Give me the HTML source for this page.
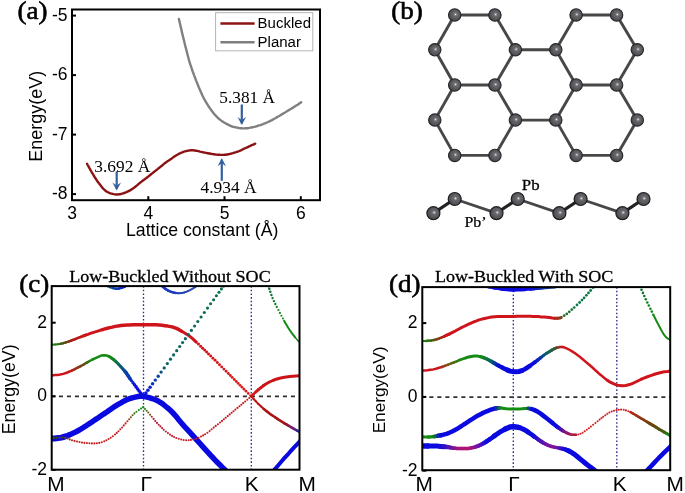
<!DOCTYPE html>
<html><head><meta charset="utf-8"><title>Figure</title>
<style>html,body{margin:0;padding:0;background:#fff;width:685px;height:493px;overflow:hidden}svg{display:block;will-change:transform}</style>
</head><body><svg width="685" height="493" viewBox="0 0 685 493"><rect x="72" y="9.5" width="248" height="190.7" fill="none" stroke="#000" stroke-width="2"/><line x1="72" y1="15.6" x2="76" y2="15.6" stroke="#000" stroke-width="2"/><text x="67.6" y="20.6" font-size="17.5" font-family="Liberation Sans, sans-serif" font-weight="normal" text-anchor="end" >-5</text><line x1="72" y1="75.1" x2="76" y2="75.1" stroke="#000" stroke-width="2"/><text x="67.6" y="80.1" font-size="17.5" font-family="Liberation Sans, sans-serif" font-weight="normal" text-anchor="end" >-6</text><line x1="72" y1="134.6" x2="76" y2="134.6" stroke="#000" stroke-width="2"/><text x="67.6" y="139.6" font-size="17.5" font-family="Liberation Sans, sans-serif" font-weight="normal" text-anchor="end" >-7</text><line x1="72" y1="194.1" x2="76" y2="194.1" stroke="#000" stroke-width="2"/><text x="67.6" y="199.1" font-size="17.5" font-family="Liberation Sans, sans-serif" font-weight="normal" text-anchor="end" >-8</text><line x1="72.0" y1="200.2" x2="72.0" y2="196.2" stroke="#000" stroke-width="2"/><text x="72.0" y="218.5" font-size="17.5" font-family="Liberation Sans, sans-serif" font-weight="normal" text-anchor="middle" >3</text><line x1="148.3" y1="200.2" x2="148.3" y2="196.2" stroke="#000" stroke-width="2"/><text x="148.3" y="218.5" font-size="17.5" font-family="Liberation Sans, sans-serif" font-weight="normal" text-anchor="middle" >4</text><line x1="224.5" y1="200.2" x2="224.5" y2="196.2" stroke="#000" stroke-width="2"/><text x="224.5" y="218.5" font-size="17.5" font-family="Liberation Sans, sans-serif" font-weight="normal" text-anchor="middle" >5</text><line x1="300.8" y1="200.2" x2="300.8" y2="196.2" stroke="#000" stroke-width="2"/><text x="300.8" y="218.5" font-size="17.5" font-family="Liberation Sans, sans-serif" font-weight="normal" text-anchor="middle" >6</text><text x="0.0" y="0.0" font-size="18.0" font-family="Liberation Sans, sans-serif" font-weight="normal" text-anchor="middle" transform="translate(42.4,116.3) rotate(-90)">Energy(eV)</text><text x="202.2" y="235.8" font-size="17.7" font-family="Liberation Sans, sans-serif" font-weight="normal" text-anchor="middle" >Lattice constant (&#197;)</text><text transform="translate(17.40 18.60) scale(1.060 1)" font-size="25.5" font-family="Liberation Serif, serif" font-weight="normal" text-anchor="start" stroke="#000" stroke-width="0.6">(a)</text><path d="M87.0 163.7 L87.4 164.5 L88.0 165.6 L88.8 166.9 L89.5 168.3 L90.3 169.7 L91.1 171.0 L91.8 172.3 L92.6 173.6 L93.4 174.9 L94.1 176.2 L94.9 177.5 L95.7 178.7 L96.5 179.9 L97.2 181.0 L98.0 182.1 L98.8 183.1 L99.5 184.1 L100.3 185.1 L101.1 186.1 L101.8 187.0 L102.5 187.9 L103.3 188.7 L104.0 189.5 L104.8 190.2 L105.5 190.8 L106.2 191.3 L107.0 191.8 L107.7 192.2 L108.5 192.5 L109.4 192.9 L110.4 193.3 L111.5 193.6 L112.7 193.9 L113.8 194.2 L115.0 194.4 L116.2 194.5 L117.4 194.5 L118.5 194.4 L119.7 194.2 L120.8 194.0 L122.0 193.7 L123.1 193.4 L124.2 193.0 L125.3 192.6 L126.4 192.2 L127.5 191.7 L128.5 191.1 L129.5 190.6 L130.5 190.1 L131.4 189.5 L132.3 188.9 L133.2 188.3 L134.1 187.6 L135.0 187.0 L135.9 186.3 L136.7 185.6 L137.6 184.9 L138.4 184.1 L139.3 183.4 L140.1 182.7 L140.9 182.1 L141.8 181.4 L142.6 180.8 L143.4 180.2 L144.3 179.6 L145.1 179.0 L145.9 178.4 L146.8 177.7 L147.6 177.0 L148.5 176.4 L149.3 175.7 L150.2 175.0 L151.0 174.3 L151.9 173.6 L152.8 172.9 L153.6 172.3 L154.4 171.6 L155.3 170.9 L156.2 170.2 L157.0 169.6 L157.9 168.9 L158.7 168.2 L159.6 167.6 L160.4 166.9 L161.2 166.2 L162.1 165.5 L162.9 164.8 L163.7 164.1 L164.6 163.4 L165.4 162.8 L166.2 162.2 L167.1 161.6 L167.9 161.0 L168.8 160.5 L169.6 159.9 L170.5 159.3 L171.4 158.7 L172.2 158.1 L173.1 157.4 L173.9 156.8 L174.8 156.2 L175.6 155.7 L176.4 155.2 L177.3 154.7 L178.1 154.2 L178.9 153.8 L179.8 153.4 L180.6 153.0 L181.4 152.6 L182.3 152.3 L183.1 152.0 L184.0 151.7 L184.8 151.4 L185.7 151.2 L186.5 151.0 L187.4 150.8 L188.2 150.6 L189.1 150.5 L189.9 150.4 L190.8 150.3 L191.6 150.3 L192.4 150.3 L193.1 150.3 L193.9 150.4 L194.8 150.5 L195.9 150.7 L197.1 150.9 L198.5 151.2 L199.9 151.6 L201.4 151.9 L203.0 152.3 L204.5 152.6 L206.1 152.9 L207.7 153.2 L209.3 153.5 L210.9 153.8 L212.5 154.1 L214.0 154.3 L215.4 154.5 L216.7 154.6 L218.0 154.7 L219.2 154.8 L220.4 154.9 L221.6 154.9 L222.7 154.9 L223.8 154.9 L224.8 154.8 L225.8 154.7 L226.9 154.5 L228.2 154.3 L229.6 154.0 L231.2 153.6 L232.8 153.2 L234.4 152.7 L236.1 152.2 L237.7 151.6 L239.3 151.0 L240.9 150.3 L242.5 149.5 L244.1 148.7 L245.7 148.0 L247.2 147.3 L248.7 146.6 L250.3 145.9 L251.8 145.2 L253.2 144.6 L254.3 144.1 L255.2 143.7" fill="none" stroke="#8a1212" stroke-width="2.4" stroke-linecap="round"/><path d="M178.9 18.9 L179.3 20.7 L179.9 23.2 L180.6 26.1 L181.3 29.3 L182.0 32.4 L182.7 35.3 L183.3 37.9 L184.0 40.5 L184.6 43.1 L185.2 45.6 L185.9 48.1 L186.5 50.5 L187.1 52.9 L187.7 55.2 L188.3 57.5 L188.9 59.8 L189.6 62.1 L190.3 64.4 L191.1 66.7 L191.9 69.1 L192.7 71.5 L193.6 73.8 L194.4 76.1 L195.3 78.4 L196.1 80.6 L197.0 82.8 L197.9 84.9 L198.7 87.0 L199.6 89.1 L200.4 91.0 L201.2 92.8 L202.0 94.5 L202.7 96.1 L203.5 97.7 L204.4 99.4 L205.4 101.1 L206.5 103.0 L207.7 104.9 L209.0 107.0 L210.4 108.9 L211.7 110.8 L213.0 112.5 L214.2 114.0 L215.5 115.4 L216.7 116.7 L217.9 117.9 L219.2 119.0 L220.6 120.1 L222.1 121.2 L223.7 122.2 L225.4 123.2 L227.1 124.1 L228.6 124.9 L230.0 125.6 L231.2 126.1 L232.2 126.5 L233.1 126.8 L234.0 127.0 L234.9 127.2 L235.8 127.4 L236.8 127.6 L237.8 127.8 L238.8 128.0 L239.7 128.1 L240.7 128.2 L241.7 128.3 L242.7 128.4 L243.6 128.4 L244.6 128.4 L245.6 128.3 L246.5 128.3 L247.5 128.2 L248.5 128.1 L249.5 127.9 L250.4 127.7 L251.4 127.5 L252.4 127.3 L253.4 127.1 L254.4 126.9 L255.3 126.6 L256.3 126.3 L257.3 126.0 L258.2 125.7 L259.2 125.4 L260.2 125.1 L261.1 124.8 L262.1 124.4 L263.1 124.1 L264.0 123.7 L265.0 123.3 L266.0 122.9 L267.0 122.5 L267.9 122.0 L268.9 121.6 L269.9 121.1 L270.9 120.6 L271.9 120.1 L272.8 119.6 L273.8 119.0 L274.8 118.5 L275.7 118.0 L276.7 117.4 L277.7 116.8 L278.7 116.3 L279.7 115.7 L280.6 115.1 L281.6 114.5 L282.6 113.9 L283.6 113.3 L284.5 112.7 L285.5 112.2 L286.5 111.6 L287.4 111.0 L288.4 110.4 L289.4 109.8 L290.3 109.3 L291.2 108.7 L292.2 108.1 L293.2 107.5 L294.2 106.9 L295.4 106.1 L296.7 105.3 L298.1 104.4 L299.3 103.5 L300.4 102.8 L301.2 102.3" fill="none" stroke="#808080" stroke-width="2.4" stroke-linecap="round"/><rect x="215.6" y="12.7" width="97.2" height="38.1" fill="#fff" stroke="#b4b4b4" stroke-width="1"/><line x1="220.4" y1="23.5" x2="254.6" y2="23.5" stroke="#8c1414" stroke-width="2.6"/><line x1="220.4" y1="42.3" x2="254.6" y2="42.3" stroke="#7f7f7f" stroke-width="2.6"/><text transform="translate(257.60 28.20) scale(1.035 1)" font-size="14.5" font-family="Liberation Sans, sans-serif" font-weight="normal" text-anchor="start" >Buckled</text><text transform="translate(257.60 46.60) scale(1.035 1)" font-size="14.5" font-family="Liberation Sans, sans-serif" font-weight="normal" text-anchor="start" >Planar</text><line x1="241.8" y1="104.5" x2="241.8" y2="123.5" stroke="#34609c" stroke-width="2.2"/><path d="M237.5 117.0 L241.8 125.0 L246.1 117.0 L241.8 120.0 Z" fill="#34609c"/><line x1="116.7" y1="171.4" x2="116.7" y2="188.9" stroke="#34609c" stroke-width="2.2"/><path d="M112.4 182.4 L116.7 190.4 L121.0 182.4 L116.7 185.4 Z" fill="#34609c"/><line x1="221.8" y1="180.8" x2="221.8" y2="159.7" stroke="#34609c" stroke-width="2.2"/><path d="M217.5 166.2 L221.8 158.2 L226.1 166.2 L221.8 163.2 Z" fill="#34609c"/><text transform="translate(219.30 103.00) scale(1.035 1)" font-size="16.7" font-family="Liberation Serif, serif" font-weight="normal" text-anchor="start" >5.381 &#197;</text><text transform="translate(94.30 172.30) scale(1.040 1)" font-size="16.7" font-family="Liberation Serif, serif" font-weight="normal" text-anchor="start" >3.692 &#197;</text><text transform="translate(200.50 193.00) scale(1.045 1)" font-size="16.7" font-family="Liberation Serif, serif" font-weight="normal" text-anchor="start" >4.934 &#197;</text><text transform="translate(391.20 18.60) scale(1.060 1)" font-size="25.5" font-family="Liberation Serif, serif" font-weight="normal" text-anchor="start" stroke="#000" stroke-width="0.6">(b)</text><defs><radialGradient id="ag" cx="0.56" cy="0.45" r="0.55" fx="0.56" fy="0.45"><stop offset="0" stop-color="#f4f4f4"/><stop offset="0.13" stop-color="#9a9a9e"/><stop offset="0.3" stop-color="#68686c"/><stop offset="0.85" stop-color="#505054"/><stop offset="1" stop-color="#3c3c40"/></radialGradient></defs><line x1="494.9" y1="15.0" x2="515.4" y2="49.8" stroke="#474747" stroke-width="2.9"/><line x1="494.9" y1="155.4" x2="515.4" y2="120.1" stroke="#474747" stroke-width="2.9"/><line x1="555.8" y1="49.8" x2="576.1" y2="85.0" stroke="#474747" stroke-width="2.9"/><line x1="454.7" y1="155.4" x2="494.9" y2="155.4" stroke="#474747" stroke-width="2.9"/><line x1="616.6" y1="85.0" x2="637.3" y2="120.1" stroke="#474747" stroke-width="2.9"/><line x1="576.1" y1="85.0" x2="616.6" y2="85.0" stroke="#474747" stroke-width="2.9"/><line x1="555.8" y1="49.8" x2="576.1" y2="15.0" stroke="#474747" stroke-width="2.9"/><line x1="515.4" y1="120.1" x2="555.8" y2="120.1" stroke="#474747" stroke-width="2.9"/><line x1="494.9" y1="85.0" x2="515.4" y2="120.1" stroke="#474747" stroke-width="2.9"/><line x1="576.1" y1="155.4" x2="616.6" y2="155.4" stroke="#474747" stroke-width="2.9"/><line x1="555.8" y1="120.1" x2="576.1" y2="155.4" stroke="#474747" stroke-width="2.9"/><line x1="576.1" y1="15.0" x2="616.6" y2="15.0" stroke="#474747" stroke-width="2.9"/><line x1="434.8" y1="120.1" x2="454.7" y2="155.4" stroke="#474747" stroke-width="2.9"/><line x1="616.6" y1="85.0" x2="637.3" y2="49.8" stroke="#474747" stroke-width="2.9"/><line x1="494.9" y1="85.0" x2="515.4" y2="49.8" stroke="#474747" stroke-width="2.9"/><line x1="616.6" y1="155.4" x2="637.3" y2="120.1" stroke="#474747" stroke-width="2.9"/><line x1="555.8" y1="120.1" x2="576.1" y2="85.0" stroke="#474747" stroke-width="2.9"/><line x1="454.7" y1="15.0" x2="494.9" y2="15.0" stroke="#474747" stroke-width="2.9"/><line x1="515.4" y1="49.8" x2="555.8" y2="49.8" stroke="#474747" stroke-width="2.9"/><line x1="616.6" y1="15.0" x2="637.3" y2="49.8" stroke="#474747" stroke-width="2.9"/><line x1="454.7" y1="85.0" x2="494.9" y2="85.0" stroke="#474747" stroke-width="2.9"/><line x1="434.8" y1="49.8" x2="454.7" y2="85.0" stroke="#474747" stroke-width="2.9"/><line x1="434.8" y1="120.1" x2="454.7" y2="85.0" stroke="#474747" stroke-width="2.9"/><line x1="434.8" y1="49.8" x2="454.7" y2="15.0" stroke="#474747" stroke-width="2.9"/><circle cx="454.7" cy="155.4" r="6.2" fill="url(#ag)" stroke="#262628" stroke-width="1.1"/><circle cx="434.8" cy="120.1" r="6.2" fill="url(#ag)" stroke="#262628" stroke-width="1.1"/><circle cx="555.8" cy="120.1" r="6.2" fill="url(#ag)" stroke="#262628" stroke-width="1.1"/><circle cx="637.3" cy="120.1" r="6.2" fill="url(#ag)" stroke="#262628" stroke-width="1.1"/><circle cx="454.7" cy="15.0" r="6.2" fill="url(#ag)" stroke="#262628" stroke-width="1.1"/><circle cx="434.8" cy="49.8" r="6.2" fill="url(#ag)" stroke="#262628" stroke-width="1.1"/><circle cx="454.7" cy="85.0" r="6.2" fill="url(#ag)" stroke="#262628" stroke-width="1.1"/><circle cx="555.8" cy="49.8" r="6.2" fill="url(#ag)" stroke="#262628" stroke-width="1.1"/><circle cx="637.3" cy="49.8" r="6.2" fill="url(#ag)" stroke="#262628" stroke-width="1.1"/><circle cx="616.6" cy="155.4" r="6.2" fill="url(#ag)" stroke="#262628" stroke-width="1.1"/><circle cx="616.6" cy="15.0" r="6.2" fill="url(#ag)" stroke="#262628" stroke-width="1.1"/><circle cx="515.4" cy="120.1" r="6.2" fill="url(#ag)" stroke="#262628" stroke-width="1.1"/><circle cx="616.6" cy="85.0" r="6.2" fill="url(#ag)" stroke="#262628" stroke-width="1.1"/><circle cx="515.4" cy="49.8" r="6.2" fill="url(#ag)" stroke="#262628" stroke-width="1.1"/><circle cx="576.1" cy="155.4" r="6.2" fill="url(#ag)" stroke="#262628" stroke-width="1.1"/><circle cx="494.9" cy="155.4" r="6.2" fill="url(#ag)" stroke="#262628" stroke-width="1.1"/><circle cx="576.1" cy="15.0" r="6.2" fill="url(#ag)" stroke="#262628" stroke-width="1.1"/><circle cx="494.9" cy="15.0" r="6.2" fill="url(#ag)" stroke="#262628" stroke-width="1.1"/><circle cx="576.1" cy="85.0" r="6.2" fill="url(#ag)" stroke="#262628" stroke-width="1.1"/><circle cx="494.9" cy="85.0" r="6.2" fill="url(#ag)" stroke="#262628" stroke-width="1.1"/><line x1="433.4" y1="213.2" x2="454.7" y2="199.0" stroke="#222" stroke-width="3.2"/><line x1="454.7" y1="199.0" x2="496.5" y2="213.2" stroke="#474747" stroke-width="2.9"/><line x1="496.5" y1="213.2" x2="517.7" y2="199.0" stroke="#222" stroke-width="3.2"/><line x1="517.7" y1="199.0" x2="559.4" y2="213.2" stroke="#474747" stroke-width="2.9"/><line x1="559.4" y1="213.2" x2="580.6" y2="199.0" stroke="#222" stroke-width="3.2"/><line x1="580.6" y1="199.0" x2="622.4" y2="213.2" stroke="#474747" stroke-width="2.9"/><line x1="622.4" y1="213.2" x2="643.5" y2="199.0" stroke="#222" stroke-width="3.2"/><circle cx="433.4" cy="213.2" r="6.5" fill="url(#ag)" stroke="#1e1e20" stroke-width="1.2"/><circle cx="454.7" cy="199.0" r="6.5" fill="url(#ag)" stroke="#1e1e20" stroke-width="1.2"/><circle cx="496.5" cy="213.2" r="6.5" fill="url(#ag)" stroke="#1e1e20" stroke-width="1.2"/><circle cx="517.7" cy="199.0" r="6.5" fill="url(#ag)" stroke="#1e1e20" stroke-width="1.2"/><circle cx="559.4" cy="213.2" r="6.5" fill="url(#ag)" stroke="#1e1e20" stroke-width="1.2"/><circle cx="580.6" cy="199.0" r="6.5" fill="url(#ag)" stroke="#1e1e20" stroke-width="1.2"/><circle cx="622.4" cy="213.2" r="6.5" fill="url(#ag)" stroke="#1e1e20" stroke-width="1.2"/><circle cx="643.5" cy="199.0" r="6.5" fill="url(#ag)" stroke="#1e1e20" stroke-width="1.2"/><text transform="translate(521.80 189.80) scale(1.160 1)" font-size="14.5" font-family="Liberation Serif, serif" font-weight="normal" text-anchor="start" stroke="#000" stroke-width="0.25">Pb</text><text transform="translate(464.40 227.20) scale(1.100 1)" font-size="14.5" font-family="Liberation Serif, serif" font-weight="normal" text-anchor="start" stroke="#000" stroke-width="0.25">Pb&#8217;</text><line x1="143.5" y1="286.1" x2="143.5" y2="469.7" stroke="#2e2e8c" stroke-width="1.35" stroke-dasharray="1.6 2.05"/><line x1="251.3" y1="286.1" x2="251.3" y2="469.7" stroke="#2e2e8c" stroke-width="1.35" stroke-dasharray="1.6 2.05"/><line x1="51.7" y1="396.40" x2="299.5" y2="396.40" stroke="#333" stroke-width="1.6" stroke-dasharray="4.1 3.9" stroke-dashoffset="0.80"/><defs><clipPath id="cc"><rect x="51.7" y="286.1" width="247.8" height="183.6"/></clipPath><clipPath id="cd"><rect x="422.3" y="287.1" width="247.9" height="183.1"/></clipPath></defs><g clip-path="url(#cc)" fill="none" stroke-linecap="round" stroke-linejoin="round"><path d="M52.0 344.8 L55.3 344.5" stroke="rgb(27,133,20)" stroke-width="2.0"/><path d="M55.3 344.5 L58.0 344.2" stroke="rgb(38,122,20)" stroke-width="2.0"/><path d="M58.0 344.2 L60.8 343.8" stroke="rgb(50,110,20)" stroke-width="2.0"/><path d="M60.8 343.8 L63.5 343.1" stroke="rgb(62,99,20)" stroke-width="2.5"/><path d="M63.5 343.1 L65.9 342.4" stroke="rgb(85,83,20)" stroke-width="2.5"/><path d="M65.9 342.4 L68.4 341.6" stroke="rgb(108,68,20)" stroke-width="2.5"/><path d="M68.4 341.6 L70.9 340.7" stroke="rgb(131,53,20)" stroke-width="2.5"/><path d="M70.9 340.7 L73.4 339.8" stroke="rgb(154,37,20)" stroke-width="2.5"/><path d="M73.4 339.8 L75.8 338.9" stroke="rgb(176,22,20)" stroke-width="2.5"/><path d="M75.8 338.9 L78.2 337.9" stroke="rgb(186,20,22)" stroke-width="2.5"/><path d="M78.2 337.9 L80.6 337.0" stroke="rgb(192,20,24)" stroke-width="2.5"/><path d="M80.6 337.0 L83.1 336.0" stroke="rgb(199,20,25)" stroke-width="2.5"/><path d="M83.1 336.0 L85.5 335.1" stroke="rgb(206,20,27)" stroke-width="3.0"/><path d="M85.5 335.1 L87.9 334.3 L90.4 333.4 L92.8 332.6 L95.2 331.9 L97.7 331.1 L100.1 330.3 L102.6 329.6" stroke="rgb(208,20,28)" stroke-width="3.0"/><path d="M102.6 329.6 L105.0 328.9 L107.4 328.2 L109.9 327.6 L112.3 327.1 L115.3 326.4 L118.2 325.9 L120.9 325.5 L124.1 325.2 L127.3 325.0 L130.0 324.9 L132.6 324.8 L135.4 324.8 L138.2 324.8 L141.2 324.8 L144.1 324.8 L147.1 324.8 L150.2 324.8 L153.2 324.8 L156.0 324.8 L159.3 325.0 L162.2 325.3 L164.9 325.7 L167.8 326.1 L170.7 326.6 L173.5 327.3 L176.5 328.4 L179.4 329.9 L181.6 331.2" stroke="rgb(208,20,28)" stroke-width="3.5"/><path d="M181.6 331.2 L183.8 332.5 L186.4 334.1 L189.0 335.8 L191.1 337.4 L193.4 339.4 L195.4 341.3 L195.9 341.7" stroke="rgb(208,20,28)" stroke-width="3.0"/><circle cx="196.3" cy="342.1" r="1.53" fill="rgb(208,20,28)"/><circle cx="198.5" cy="344.1" r="1.52" fill="rgb(208,20,28)"/><circle cx="200.7" cy="346.3" r="1.51" fill="rgb(208,20,28)"/><circle cx="202.7" cy="348.2" r="1.51" fill="rgb(209,21,28)"/><circle cx="204.7" cy="350.1" r="1.50" fill="rgb(209,21,28)"/><circle cx="206.6" cy="352.0" r="1.49" fill="rgb(210,21,28)"/><circle cx="208.5" cy="353.9" r="1.49" fill="rgb(210,22,28)"/><circle cx="210.7" cy="356.0" r="1.48" fill="rgb(211,22,28)"/><circle cx="212.9" cy="358.2" r="1.47" fill="rgb(211,23,29)"/><circle cx="215.1" cy="360.3" r="1.47" fill="rgb(212,23,29)"/><circle cx="217.3" cy="362.5" r="1.46" fill="rgb(212,23,29)"/><circle cx="219.5" cy="364.7" r="1.45" fill="rgb(213,24,29)"/><circle cx="221.7" cy="366.9" r="1.44" fill="rgb(213,24,29)"/><circle cx="223.9" cy="369.1" r="1.44" fill="rgb(214,25,29)"/><circle cx="226.1" cy="371.3" r="1.43" fill="rgb(214,25,29)"/><circle cx="228.3" cy="373.5" r="1.42" fill="rgb(215,26,29)"/><circle cx="230.3" cy="375.5" r="1.42" fill="rgb(215,26,29)"/><circle cx="232.2" cy="377.4" r="1.41" fill="rgb(216,26,29)"/><circle cx="234.3" cy="379.5" r="1.40" fill="rgb(216,27,29)"/><circle cx="236.3" cy="381.5" r="1.40" fill="rgb(217,27,29)"/><circle cx="238.2" cy="383.4" r="1.39" fill="rgb(217,28,30)"/><circle cx="240.1" cy="385.3" r="1.38" fill="rgb(218,28,30)"/><circle cx="242.0" cy="387.2" r="1.38" fill="rgb(218,28,30)"/><circle cx="244.0" cy="389.2" r="1.37" fill="rgb(219,29,30)"/><circle cx="246.0" cy="391.2" r="1.36" fill="rgb(219,29,30)"/><circle cx="248.2" cy="393.4" r="1.36" fill="rgb(220,30,30)"/><circle cx="250.5" cy="395.5" r="1.35" fill="rgb(220,30,30)"/><path d="M251.3 396.3 L253.5 394.1" stroke="rgb(209,28,29)" stroke-width="2.5"/><path d="M253.5 394.1 L255.9 391.8" stroke="rgb(208,27,28)" stroke-width="2.5"/><path d="M255.9 391.8 L258.4 389.6" stroke="rgb(207,25,27)" stroke-width="3.0"/><path d="M258.4 389.6 L260.9 387.6" stroke="rgb(206,24,26)" stroke-width="3.0"/><path d="M260.9 387.6 L263.5 385.6" stroke="rgb(205,22,25)" stroke-width="3.0"/><path d="M263.5 385.6 L266.3 383.7 L269.4 382.0 L272.8 380.5 L276.2 379.2 L279.6 378.2 L283.0 377.5 L286.4 376.9 L289.6 376.5 L292.9 376.2 L296.1 376.0 L298.8 375.8 L301.4 375.7 L302.0 375.7" stroke="rgb(204,20,24)" stroke-width="3.0"/><path d="M52.0 375.4 L54.8 375.1 L57.4 374.9 L60.3 374.5 L63.2 373.9 L66.0 373.0 L68.8 371.9" stroke="rgb(208,20,28)" stroke-width="2.5"/><path d="M68.8 371.9 L71.8 370.6" stroke="rgb(206,21,28)" stroke-width="2.5"/><path d="M71.8 370.6 L74.8 369.1" stroke="rgb(182,33,26)" stroke-width="2.5"/><path d="M74.8 369.1 L77.7 367.6" stroke="rgb(159,45,25)" stroke-width="2.5"/><path d="M77.7 367.6 L80.7 366.1" stroke="rgb(136,57,23)" stroke-width="2.5"/><path d="M80.7 366.1 L83.7 364.5" stroke="rgb(112,69,21)" stroke-width="2.5"/><path d="M83.7 364.5 L86.8 362.7" stroke="rgb(88,82,20)" stroke-width="2.5"/><path d="M86.8 362.7 L89.7 361.0" stroke="rgb(57,108,20)" stroke-width="2.5"/><path d="M89.7 361.0 L92.5 359.5" stroke="rgb(29,133,20)" stroke-width="2.5"/><path d="M92.5 359.5 L95.0 358.3 L98.3 356.8 L101.2 355.6 L104.0 355.2 L106.7 355.5 L109.2 356.5" stroke="rgb(20,140,20)" stroke-width="2.5"/><path d="M109.2 356.5 L111.8 358.2" stroke="rgb(20,140,20)" stroke-width="3.0"/><path d="M111.8 358.2 L113.8 359.7" stroke="rgb(19,136,28)" stroke-width="3.0"/><path d="M113.8 359.7 L116.1 361.8" stroke="rgb(16,125,50)" stroke-width="3.0"/><path d="M116.1 361.8 L118.6 364.3" stroke="rgb(13,113,74)" stroke-width="3.0"/><path d="M118.6 364.3 L120.9 366.8" stroke="rgb(10,101,98)" stroke-width="3.0"/><path d="M120.9 366.8 L123.1 369.2" stroke="rgb(10,90,120)" stroke-width="3.0"/><path d="M123.1 369.2 L124.8 371.2" stroke="rgb(10,80,140)" stroke-width="3.0"/><path d="M124.8 371.2 L126.4 373.2" stroke="rgb(10,72,156)" stroke-width="3.5"/><path d="M126.4 373.2 L128.3 376.0" stroke="rgb(10,63,173)" stroke-width="3.5"/><path d="M128.3 376.0 L129.7 378.1 L130.0 378.6" stroke="rgb(10,60,180)" stroke-width="3.5"/><circle cx="130.0" cy="378.6" r="1.67" fill="rgb(10,53,186)"/><circle cx="131.4" cy="380.6" r="1.69" fill="rgb(10,43,195)"/><circle cx="133.0" cy="382.7" r="1.72" fill="rgb(10,31,205)"/><circle cx="134.5" cy="384.8" r="1.75" fill="rgb(10,21,215)"/><circle cx="136.1" cy="386.9" r="1.78" fill="rgb(10,10,224)"/><circle cx="137.6" cy="389.0" r="1.80" fill="rgb(10,10,224)"/><circle cx="139.1" cy="391.0" r="1.83" fill="rgb(10,10,224)"/><circle cx="140.6" cy="393.0" r="1.86" fill="rgb(10,10,224)"/><circle cx="142.2" cy="394.9" r="1.89" fill="rgb(10,10,224)"/><circle cx="143.5" cy="396.3" r="1.85" fill="rgb(10,10,224)"/><circle cx="145.9" cy="393.0" r="1.82" fill="rgb(10,20,216)"/><circle cx="147.9" cy="390.3" r="1.80" fill="rgb(10,28,209)"/><circle cx="150.1" cy="387.2" r="1.77" fill="rgb(10,37,201)"/><circle cx="152.6" cy="383.8" r="1.74" fill="rgb(10,47,192)"/><circle cx="155.3" cy="380.1" r="1.71" fill="rgb(10,57,182)"/><circle cx="158.2" cy="376.2" r="1.68" fill="rgb(10,69,163)"/><circle cx="161.1" cy="372.1" r="1.65" fill="rgb(10,80,139)"/><circle cx="164.2" cy="367.9" r="1.61" fill="rgb(10,93,114)"/><circle cx="167.3" cy="363.6" r="1.60" fill="rgb(10,100,100)"/><circle cx="170.5" cy="359.2" r="1.60" fill="rgb(10,101,99)"/><circle cx="173.6" cy="354.9" r="1.59" fill="rgb(10,102,97)"/><circle cx="176.7" cy="350.7" r="1.59" fill="rgb(10,102,96)"/><circle cx="179.7" cy="346.5" r="1.59" fill="rgb(10,103,95)"/><circle cx="182.6" cy="342.5" r="1.59" fill="rgb(10,103,94)"/><circle cx="185.4" cy="338.7" r="1.58" fill="rgb(10,104,94)"/><circle cx="188.3" cy="334.6" r="1.58" fill="rgb(10,104,93)"/><circle cx="191.4" cy="330.4" r="1.58" fill="rgb(10,105,92)"/><circle cx="194.6" cy="326.0" r="1.58" fill="rgb(10,106,90)"/><circle cx="197.8" cy="321.5" r="1.57" fill="rgb(10,106,89)"/><circle cx="201.1" cy="317.0" r="1.57" fill="rgb(10,107,88)"/><circle cx="204.3" cy="312.5" r="1.57" fill="rgb(10,108,87)"/><circle cx="207.5" cy="308.1" r="1.57" fill="rgb(10,108,86)"/><circle cx="210.6" cy="303.8" r="1.56" fill="rgb(10,109,85)"/><circle cx="213.6" cy="299.7" r="1.56" fill="rgb(10,110,84)"/><circle cx="216.4" cy="295.8" r="1.56" fill="rgb(10,110,83)"/><circle cx="219.0" cy="292.2" r="1.56" fill="rgb(10,111,82)"/><circle cx="221.4" cy="288.9" r="1.55" fill="rgb(10,111,82)"/><circle cx="223.5" cy="286.1" r="1.55" fill="rgb(10,111,81)"/><circle cx="226.0" cy="282.6" r="1.55" fill="rgb(10,112,80)"/><path d="M51.4 438.6 L54.7 438.4 L58.1 438.1 L61.4 437.6 L64.5 436.7" stroke="rgb(10,10,224)" stroke-width="6.0"/><path d="M64.5 436.7 L67.5 435.6 L70.4 434.4 L72.9 433.3 L75.7 432.0 L78.4 430.5 L81.2 428.9 L83.4 427.5 L85.5 426.2 L87.6 424.8 L89.8 423.4 L91.9 422.0 L94.0 420.5 L96.1 419.1 L98.3 417.7 L100.4 416.2 L102.5 414.8 L104.7 413.4 L106.8 412.0 L108.9 410.5 L111.1 409.0 L113.2 407.5 L115.3 406.1 L118.2 404.4 L121.0 402.8 L123.8 401.2 L126.7 399.8 L129.5 398.7 L132.3 397.8 L135.2 397.1 L138.1 396.5 L141.3 396.1 L144.4 396.5 L147.1 397.1 L149.9 397.9 L152.8 398.8 L155.4 399.8 L158.6 401.3 L161.1 402.8 L163.4 404.5 L165.8 406.5 L168.3 408.5 L170.8 410.8 L173.3 413.3 L175.8 416.1 L177.5 418.2 L179.1 420.3 L180.8 422.3 L182.4 424.2 L184.9 427.0 L187.4 429.7 L189.9 432.4 L192.4 435.2 L194.9 437.9 L197.4 440.7 L199.9 443.4 L202.3 446.1 L204.8 448.9 L207.3 451.6 L209.0 453.5 L210.7 455.3 L212.4 457.2 L214.9 459.9 L216.7 461.7 L218.5 463.5 L220.3 465.3 L222.6 467.6 L224.5 469.5 L226.0 471.0" stroke="rgb(10,10,224)" stroke-width="5.5"/><circle cx="51.4" cy="438.2" r="1.20" fill="rgb(40,90,20)"/><circle cx="53.8" cy="438.0" r="1.18" fill="rgb(49,87,20)"/><circle cx="56.6" cy="437.8" r="1.15" fill="rgb(63,83,20)"/><circle cx="59.6" cy="437.6" r="1.12" fill="rgb(78,79,20)"/><circle cx="62.5" cy="437.5" r="1.09" fill="rgb(92,75,20)"/><circle cx="65.1" cy="437.7" r="1.06" fill="rgb(106,71,20)"/><circle cx="67.5" cy="438.4" r="1.05" fill="rgb(123,64,21)"/><circle cx="69.7" cy="439.4" r="1.05" fill="rgb(143,55,24)"/><circle cx="72.0" cy="440.2" r="1.05" fill="rgb(164,46,26)"/><circle cx="74.5" cy="440.9" r="1.05" fill="rgb(186,36,28)"/><circle cx="77.0" cy="441.5" r="1.05" fill="rgb(200,30,30)"/><circle cx="79.5" cy="442.0" r="1.05" fill="rgb(200,30,30)"/><circle cx="82.0" cy="442.5" r="1.05" fill="rgb(200,30,30)"/><circle cx="84.4" cy="442.9" r="1.05" fill="rgb(200,30,30)"/><circle cx="86.9" cy="443.1" r="1.05" fill="rgb(200,30,30)"/><circle cx="89.4" cy="443.3" r="1.05" fill="rgb(200,30,30)"/><circle cx="91.9" cy="443.4" r="1.05" fill="rgb(200,30,30)"/><circle cx="94.4" cy="443.4" r="1.05" fill="rgb(200,30,30)"/><circle cx="96.9" cy="443.2" r="1.05" fill="rgb(200,30,30)"/><circle cx="99.3" cy="442.9" r="1.05" fill="rgb(200,30,30)"/><circle cx="101.8" cy="442.2" r="1.05" fill="rgb(200,30,30)"/><circle cx="104.3" cy="441.2" r="1.05" fill="rgb(200,30,30)"/><circle cx="106.4" cy="440.2" r="1.05" fill="rgb(200,30,30)"/><circle cx="108.6" cy="439.0" r="1.05" fill="rgb(200,30,30)"/><circle cx="110.7" cy="437.7" r="1.05" fill="rgb(200,30,30)"/><circle cx="112.8" cy="436.2" r="1.05" fill="rgb(200,30,30)"/><circle cx="115.0" cy="434.5" r="1.05" fill="rgb(200,30,30)"/><circle cx="116.7" cy="432.9" r="1.05" fill="rgb(200,30,30)"/><circle cx="118.5" cy="431.2" r="1.05" fill="rgb(200,30,30)"/><circle cx="120.3" cy="429.3" r="1.05" fill="rgb(200,30,30)"/><circle cx="122.1" cy="427.5" r="1.05" fill="rgb(200,30,30)"/><circle cx="123.8" cy="425.4" r="1.05" fill="rgb(200,30,30)"/><circle cx="125.6" cy="423.4" r="1.05" fill="rgb(200,30,30)"/><circle cx="127.4" cy="421.3" r="1.05" fill="rgb(180,44,28)"/><circle cx="129.2" cy="419.3" r="1.05" fill="rgb(155,62,25)"/><circle cx="130.9" cy="417.2" r="1.05" fill="rgb(130,79,23)"/><circle cx="132.6" cy="415.2" r="1.05" fill="rgb(105,96,21)"/><circle cx="134.4" cy="413.4" r="1.05" fill="rgb(77,112,20)"/><circle cx="136.4" cy="411.7" r="1.05" fill="rgb(45,128,20)"/><circle cx="138.8" cy="410.1" r="1.05" fill="rgb(20,140,20)"/><circle cx="141.0" cy="408.6" r="1.05" fill="rgb(20,140,20)"/><circle cx="143.1" cy="407.3" r="1.05" fill="rgb(20,140,20)"/><circle cx="143.3" cy="407.2" r="1.05" fill="rgb(20,140,20)"/><circle cx="145.0" cy="409.0" r="1.05" fill="rgb(49,125,20)"/><circle cx="146.7" cy="410.7" r="1.05" fill="rgb(78,111,20)"/><circle cx="148.3" cy="412.5" r="1.05" fill="rgb(105,96,22)"/><circle cx="150.1" cy="414.7" r="1.05" fill="rgb(134,70,37)"/><circle cx="151.8" cy="416.7" r="1.05" fill="rgb(161,47,50)"/><circle cx="153.6" cy="418.9" r="1.05" fill="rgb(180,30,60)"/><circle cx="155.3" cy="421.0" r="1.05" fill="rgb(182,30,58)"/><circle cx="157.0" cy="422.9" r="1.05" fill="rgb(183,30,57)"/><circle cx="158.7" cy="424.7" r="1.05" fill="rgb(184,30,56)"/><circle cx="160.4" cy="426.4" r="1.05" fill="rgb(185,30,55)"/><circle cx="162.1" cy="428.1" r="1.05" fill="rgb(187,30,53)"/><circle cx="163.7" cy="429.7" r="1.05" fill="rgb(188,30,52)"/><circle cx="165.8" cy="431.5" r="1.05" fill="rgb(190,30,50)"/><circle cx="167.9" cy="433.1" r="1.05" fill="rgb(191,30,49)"/><circle cx="170.0" cy="434.6" r="1.05" fill="rgb(193,30,47)"/><circle cx="172.1" cy="435.9" r="1.05" fill="rgb(194,30,46)"/><circle cx="174.1" cy="437.0" r="1.05" fill="rgb(196,30,44)"/><circle cx="176.3" cy="438.0" r="1.05" fill="rgb(197,30,43)"/><circle cx="178.8" cy="438.8" r="1.05" fill="rgb(199,30,41)"/><circle cx="181.2" cy="439.5" r="1.05" fill="rgb(200,30,40)"/><circle cx="183.6" cy="440.0" r="1.05" fill="rgb(201,29,39)"/><circle cx="186.1" cy="440.3" r="1.05" fill="rgb(201,29,38)"/><circle cx="188.6" cy="440.2" r="1.05" fill="rgb(201,29,38)"/><circle cx="190.9" cy="439.9" r="1.05" fill="rgb(202,28,37)"/><circle cx="193.5" cy="439.5" r="1.05" fill="rgb(202,28,36)"/><circle cx="196.1" cy="438.8" r="1.05" fill="rgb(202,28,35)"/><circle cx="198.5" cy="437.8" r="1.05" fill="rgb(203,27,35)"/><circle cx="201.0" cy="436.5" r="1.05" fill="rgb(203,27,34)"/><circle cx="203.1" cy="435.4" r="1.05" fill="rgb(203,27,33)"/><circle cx="205.1" cy="434.2" r="1.05" fill="rgb(204,26,33)"/><circle cx="207.4" cy="432.7" r="1.05" fill="rgb(204,26,32)"/><circle cx="209.6" cy="431.1" r="1.05" fill="rgb(204,26,32)"/><circle cx="211.6" cy="429.3" r="1.05" fill="rgb(204,26,31)"/><circle cx="213.7" cy="427.6" r="1.05" fill="rgb(205,25,31)"/><circle cx="215.7" cy="425.9" r="1.05" fill="rgb(205,25,30)"/><circle cx="217.9" cy="424.2" r="1.05" fill="rgb(205,25,29)"/><circle cx="220.0" cy="422.5" r="1.05" fill="rgb(206,24,29)"/><circle cx="222.0" cy="420.9" r="1.05" fill="rgb(206,24,28)"/><circle cx="223.9" cy="419.3" r="1.05" fill="rgb(206,24,28)"/><circle cx="225.7" cy="417.8" r="1.05" fill="rgb(206,24,27)"/><circle cx="227.7" cy="416.1" r="1.05" fill="rgb(207,23,27)"/><circle cx="229.7" cy="414.4" r="1.05" fill="rgb(207,23,26)"/><circle cx="231.6" cy="412.8" r="1.05" fill="rgb(207,23,25)"/><circle cx="233.5" cy="411.2" r="1.05" fill="rgb(208,22,25)"/><circle cx="235.4" cy="409.6" r="1.05" fill="rgb(208,22,24)"/><circle cx="237.5" cy="407.9" r="1.05" fill="rgb(208,22,24)"/><circle cx="239.4" cy="406.3" r="1.05" fill="rgb(208,22,23)"/><circle cx="241.3" cy="404.7" r="1.05" fill="rgb(209,21,23)"/><circle cx="243.2" cy="403.1" r="1.05" fill="rgb(209,21,22)"/><circle cx="245.2" cy="401.5" r="1.05" fill="rgb(209,21,22)"/><circle cx="247.3" cy="399.7" r="1.05" fill="rgb(209,21,21)"/><circle cx="249.3" cy="398.0" r="1.05" fill="rgb(210,20,20)"/><circle cx="251.1" cy="396.5" r="1.05" fill="rgb(210,20,20)"/><path d="M251.3 396.3 L253.5 398.8" stroke="rgb(191,20,20)" stroke-width="2.0"/><path d="M253.5 398.8 L255.9 401.4" stroke="rgb(188,20,20)" stroke-width="2.0"/><path d="M255.9 401.4 L258.4 404.0" stroke="rgb(186,20,20)" stroke-width="2.0"/><path d="M258.4 404.0 L260.9 406.3" stroke="rgb(184,20,20)" stroke-width="2.0"/><path d="M260.9 406.3 L263.5 408.7" stroke="rgb(181,20,20)" stroke-width="2.0"/><path d="M263.5 408.7 L266.3 411.0" stroke="rgb(179,20,20)" stroke-width="2.5"/><path d="M266.3 411.0 L268.3 412.6" stroke="rgb(177,20,20)" stroke-width="2.5"/><path d="M268.3 412.6 L270.5 414.2" stroke="rgb(175,20,20)" stroke-width="2.5"/><path d="M270.5 414.2 L272.8 415.8" stroke="rgb(173,20,20)" stroke-width="2.5"/><path d="M272.8 415.8 L275.1 417.3" stroke="rgb(170,20,20)" stroke-width="2.5"/><path d="M275.1 417.3 L277.4 418.9" stroke="rgb(168,20,20)" stroke-width="2.5"/><path d="M277.4 418.9 L279.6 420.3" stroke="rgb(166,20,20)" stroke-width="2.5"/><path d="M279.6 420.3 L281.9 421.7" stroke="rgb(164,20,20)" stroke-width="2.5"/><path d="M281.9 421.7 L284.1 423.1" stroke="rgb(162,20,20)" stroke-width="2.5"/><path d="M284.1 423.1 L286.4 424.4" stroke="rgb(159,20,23)" stroke-width="2.5"/><path d="M286.4 424.4 L288.5 425.7" stroke="rgb(146,23,47)" stroke-width="2.5"/><path d="M288.5 425.7 L291.8 427.6" stroke="rgb(131,26,77)" stroke-width="2.5"/><path d="M291.8 427.6 L294.0 428.9" stroke="rgb(116,29,108)" stroke-width="2.5"/><path d="M294.0 428.9 L297.1 430.6" stroke="rgb(88,36,139)" stroke-width="2.5"/><path d="M297.1 430.6 L299.5 432.0" stroke="rgb(50,47,172)" stroke-width="2.5"/><path d="M299.5 432.0 L301.7 433.3 L302.0 433.5" stroke="rgb(40,50,180)" stroke-width="2.5"/><path d="M272.5 472.0 L274.4 469.7 L276.1 467.8 L278.3 465.2 L280.8 462.3 L283.4 459.2 L286.0 456.3 L288.8 453.3 L291.8 449.9 L294.8 446.7 L297.5 443.8 L299.5 441.6 L301.4 439.5 L302.0 438.8" stroke="rgb(10,10,224)" stroke-width="4.0"/><path d="M284.1 320.7 L285.5 323.3 L287.0 325.8 L288.5 328.2 L290.0 330.5 L291.5 332.6 L293.6 335.3 L295.1 337.3" stroke="rgb(20,140,20)" stroke-width="2.0"/><path d="M295.1 337.3 L296.9 339.6 L298.8 341.7 L300.8 343.4 L302.0 344.0" stroke="rgb(20,140,20)" stroke-width="1.5"/><circle cx="267.5" cy="283.0" r="1.30" fill="rgb(10,110,60)"/><circle cx="268.4" cy="286.1" r="1.29" fill="rgb(10,111,59)"/><circle cx="269.3" cy="288.8" r="1.28" fill="rgb(11,113,56)"/><circle cx="270.3" cy="291.7" r="1.26" fill="rgb(12,116,52)"/><circle cx="271.4" cy="294.9" r="1.24" fill="rgb(13,119,49)"/><circle cx="272.6" cy="298.1" r="1.22" fill="rgb(14,122,45)"/><circle cx="273.9" cy="301.1" r="1.20" fill="rgb(15,125,40)"/><circle cx="275.3" cy="304.0" r="1.17" fill="rgb(16,128,36)"/><circle cx="276.8" cy="307.0" r="1.14" fill="rgb(17,132,31)"/><circle cx="278.4" cy="310.0" r="1.12" fill="rgb(19,136,25)"/><circle cx="279.9" cy="312.9" r="1.09" fill="rgb(20,140,20)"/><circle cx="281.4" cy="315.7" r="1.06" fill="rgb(20,140,20)"/><circle cx="282.9" cy="318.5" r="1.04" fill="rgb(20,140,20)"/><path d="M159.0 283.0 L160.8 285.3" stroke="rgb(20,50,200)" stroke-width="2.5"/><path d="M160.8 285.3 L163.1 287.1" stroke="rgb(22,52,198)" stroke-width="2.5"/><path d="M163.1 287.1 L165.5 288.9" stroke="rgb(23,53,197)" stroke-width="2.5"/><path d="M165.5 288.9 L168.2 290.6" stroke="rgb(26,56,194)" stroke-width="2.5"/><path d="M168.2 290.6 L170.9 291.8" stroke="rgb(28,58,192)" stroke-width="2.5"/><path d="M170.9 291.8 L173.5 292.6" stroke="rgb(30,60,190)" stroke-width="2.5"/><path d="M173.5 292.6 L176.1 293.1" stroke="rgb(32,62,188)" stroke-width="2.5"/><path d="M176.1 293.1 L178.7 293.2" stroke="rgb(34,64,186)" stroke-width="2.0"/><path d="M178.7 293.2 L182.0 292.9" stroke="rgb(36,66,184)" stroke-width="2.0"/><path d="M182.0 292.9 L184.4 292.4" stroke="rgb(39,69,181)" stroke-width="2.0"/><path d="M184.4 292.4 L187.0 291.5 L190.0 290.1 L193.1 288.3 L195.7 286.6 L197.8 284.9 L199.0 283.0" stroke="rgb(40,70,180)" stroke-width="2.0"/><path d="M104.0 283.0 L105.9 284.7" stroke="rgb(10,106,87)" stroke-width="2.5"/><path d="M105.9 284.7 L108.0 286.1" stroke="rgb(10,99,103)" stroke-width="2.5"/><path d="M108.0 286.1 L110.3 287.1" stroke="rgb(10,90,120)" stroke-width="2.5"/><path d="M110.3 287.1 L113.1 288.1" stroke="rgb(10,80,139)" stroke-width="2.5"/><path d="M113.1 288.1 L116.0 288.8" stroke="rgb(10,69,161)" stroke-width="2.5"/><path d="M116.0 288.8 L118.8 288.6" stroke="rgb(10,58,181)" stroke-width="2.5"/><path d="M118.8 288.6 L121.7 287.8" stroke="rgb(10,47,192)" stroke-width="2.5"/><path d="M121.7 287.8 L124.3 286.8" stroke="rgb(10,35,202)" stroke-width="2.5"/><path d="M124.3 286.8 L126.8 285.5" stroke="rgb(10,24,211)" stroke-width="2.5"/><path d="M126.8 285.5 L128.6 283.4" stroke="rgb(10,15,219)" stroke-width="2.5"/><path d="M128.6 283.4 L129.0 283.0" stroke="rgb(10,11,223)" stroke-width="2.5"/></g><rect x="51.7" y="286.1" width="247.8" height="183.6" fill="none" stroke="#000" stroke-width="2"/><line x1="51.7" y1="322.7" x2="55.7" y2="322.7" stroke="#000" stroke-width="2"/><text x="47.0" y="327.6" font-size="17.5" font-family="Liberation Sans, sans-serif" font-weight="normal" text-anchor="end" >2</text><line x1="51.7" y1="396.3" x2="55.7" y2="396.3" stroke="#000" stroke-width="2"/><text x="47.0" y="401.2" font-size="17.5" font-family="Liberation Sans, sans-serif" font-weight="normal" text-anchor="end" >0</text><line x1="51.7" y1="469.9" x2="55.7" y2="469.9" stroke="#000" stroke-width="2"/><text x="47.0" y="474.8" font-size="17.5" font-family="Liberation Sans, sans-serif" font-weight="normal" text-anchor="end" >-2</text><text transform="translate(19.20 292.00) scale(1.060 1)" font-size="25.5" font-family="Liberation Serif, serif" font-weight="normal" text-anchor="start" stroke="#000" stroke-width="0.6">(c)</text><text x="69.2" y="282.0" font-size="16.3" font-family="Liberation Serif, serif" font-weight="normal" text-anchor="start" textLength="201.5" lengthAdjust="spacingAndGlyphs" stroke="#000" stroke-width="0.3">Low-Buckled Without SOC</text><text transform="translate(55.90 490.80) scale(1.070 1)" font-size="19.5" font-family="Liberation Sans, sans-serif" font-weight="normal" text-anchor="middle" >M</text><text transform="translate(146.20 490.80) scale(1.070 1)" font-size="19.5" font-family="Liberation Sans, sans-serif" font-weight="normal" text-anchor="middle" >&#915;</text><text transform="translate(251.70 490.80) scale(1.070 1)" font-size="19.5" font-family="Liberation Sans, sans-serif" font-weight="normal" text-anchor="middle" >K</text><text transform="translate(307.20 490.80) scale(1.070 1)" font-size="19.5" font-family="Liberation Sans, sans-serif" font-weight="normal" text-anchor="middle" >M</text><text x="0.0" y="0.0" font-size="17.8" font-family="Liberation Sans, sans-serif" font-weight="normal" text-anchor="middle" transform="translate(15,389.4) rotate(-90)">Energy(eV)</text><line x1="513.3" y1="287.1" x2="513.3" y2="470.2" stroke="#2e2e8c" stroke-width="1.35" stroke-dasharray="1.6 2.05"/><line x1="616.8" y1="287.1" x2="616.8" y2="470.2" stroke="#2e2e8c" stroke-width="1.35" stroke-dasharray="1.6 2.05"/><line x1="422.3" y1="397.10" x2="670.2" y2="397.10" stroke="#333" stroke-width="1.6" stroke-dasharray="4.1 3.9" stroke-dashoffset="1.00"/><g clip-path="url(#cd)" fill="none" stroke-linecap="round" stroke-linejoin="round"><path d="M422.2 341.1 L425.3 341.0" stroke="rgb(27,133,20)" stroke-width="2.0"/><path d="M425.3 341.0 L428.1 340.8" stroke="rgb(39,121,20)" stroke-width="2.5"/><path d="M428.1 340.8 L431.1 340.6" stroke="rgb(50,110,20)" stroke-width="2.5"/><path d="M431.1 340.6 L434.0 340.0" stroke="rgb(66,97,20)" stroke-width="2.5"/><path d="M434.0 340.0 L436.9 339.2" stroke="rgb(97,79,20)" stroke-width="2.5"/><path d="M436.9 339.2 L439.3 338.4" stroke="rgb(126,62,20)" stroke-width="2.5"/><path d="M439.3 338.4 L441.8 337.4" stroke="rgb(152,47,20)" stroke-width="2.5"/><path d="M441.8 337.4 L444.3 336.3" stroke="rgb(179,32,20)" stroke-width="2.5"/><path d="M444.3 336.3 L446.7 335.2" stroke="rgb(201,20,21)" stroke-width="3.0"/><path d="M446.7 335.2 L449.2 334.1" stroke="rgb(205,20,25)" stroke-width="3.0"/><path d="M449.2 334.1 L451.6 332.9 L454.1 331.7 L456.5 330.3 L458.9 329.0 L461.4 327.7 L463.8 326.5 L466.2 325.3 L468.7 324.2 L471.1 323.1 L473.5 322.0 L476.0 321.1 L478.4 320.2 L480.8 319.4 L483.3 318.8 L485.7 318.2 L488.7 317.6 L491.8 317.1 L494.9 316.7 L497.5 316.6 L500.2 316.6 L502.8 316.6 L505.7 316.6 L508.3 316.6 L511.2 316.4 L513.8 316.4 L517.0 316.3 L519.5 316.3 L522.1 316.3 L524.9 316.3 L527.6 316.3 L530.3 316.3 L533.0 316.4 L535.7 316.5 L538.2 316.6 L541.3 316.9 L544.1 317.1 L546.7 317.3 L549.3 317.6 L552.4 318.0 L555.0 318.2" stroke="rgb(208,20,28)" stroke-width="3.0"/><path d="M555.0 318.2 L557.6 318.3" stroke="rgb(191,30,26)" stroke-width="3.0"/><path d="M557.6 318.3 L560.1 317.9" stroke="rgb(156,50,22)" stroke-width="3.0"/><path d="M560.1 317.9 L561.0 317.6" stroke="rgb(129,65,22)" stroke-width="2.5"/><circle cx="561.4" cy="317.4" r="1.36" fill="rgb(109,74,26)"/><circle cx="564.2" cy="315.7" r="1.35" fill="rgb(47,102,37)"/><circle cx="566.8" cy="313.9" r="1.36" fill="rgb(28,111,44)"/><circle cx="569.3" cy="311.8" r="1.36" fill="rgb(24,113,49)"/><circle cx="571.8" cy="309.6" r="1.37" fill="rgb(21,115,54)"/><circle cx="574.2" cy="307.5" r="1.37" fill="rgb(18,116,58)"/><circle cx="577.0" cy="304.9" r="1.38" fill="rgb(14,118,64)"/><circle cx="579.6" cy="302.5" r="1.38" fill="rgb(11,120,69)"/><circle cx="582.0" cy="300.1" r="1.39" fill="rgb(10,120,70)"/><circle cx="584.1" cy="297.9" r="1.39" fill="rgb(10,120,70)"/><circle cx="586.4" cy="295.3" r="1.39" fill="rgb(10,120,70)"/><circle cx="588.5" cy="292.9" r="1.40" fill="rgb(10,120,70)"/><circle cx="590.6" cy="290.5" r="1.40" fill="rgb(10,120,70)"/><circle cx="593.0" cy="287.6" r="1.40" fill="rgb(10,120,70)"/><circle cx="595.1" cy="285.1" r="1.40" fill="rgb(10,120,70)"/><path d="M422.2 370.6 L424.9 370.4 L427.5 370.2 L430.3 369.8 L433.2 369.4 L436.0 368.8 L438.8 367.9" stroke="rgb(208,20,28)" stroke-width="2.5"/><path d="M438.8 367.9 L441.8 367.0" stroke="rgb(190,33,27)" stroke-width="2.5"/><path d="M441.8 367.0 L444.8 365.9" stroke="rgb(167,50,25)" stroke-width="2.5"/><path d="M444.8 365.9 L447.7 364.8" stroke="rgb(144,67,23)" stroke-width="2.5"/><path d="M447.7 364.8 L450.7 363.7" stroke="rgb(122,84,22)" stroke-width="2.5"/><path d="M450.7 363.7 L453.7 362.5" stroke="rgb(99,101,20)" stroke-width="2.5"/><path d="M453.7 362.5 L456.7 361.3" stroke="rgb(75,113,20)" stroke-width="2.5"/><path d="M456.7 361.3 L459.6 360.0" stroke="rgb(51,125,20)" stroke-width="2.5"/><path d="M459.6 360.0 L462.5 359.0" stroke="rgb(28,136,20)" stroke-width="2.5"/><path d="M462.5 359.0 L465.1 358.1" stroke="rgb(20,140,20)" stroke-width="2.5"/><path d="M465.1 358.1 L467.6 357.3 L471.1 356.5 L474.4 356.0 L477.6 356.1 L480.6 356.7" stroke="rgb(20,140,20)" stroke-width="3.0"/><path d="M480.6 356.7 L483.6 357.7" stroke="rgb(20,140,21)" stroke-width="3.5"/><path d="M483.6 357.7 L486.8 359.0" stroke="rgb(17,127,46)" stroke-width="3.5"/><path d="M486.8 359.0 L489.1 360.2" stroke="rgb(14,116,68)" stroke-width="3.5"/><path d="M489.1 360.2 L491.5 361.6" stroke="rgb(12,107,87)" stroke-width="3.5"/><path d="M491.5 361.6 L494.0 363.0" stroke="rgb(10,92,112)" stroke-width="4.0"/><path d="M494.0 363.0 L496.3 364.4" stroke="rgb(10,65,148)" stroke-width="4.0"/><path d="M496.3 364.4 L498.5 365.6" stroke="rgb(10,39,184)" stroke-width="4.0"/><path d="M498.5 365.6 L501.8 367.3" stroke="rgb(10,10,224)" stroke-width="4.0"/><path d="M501.8 367.3 L504.9 368.9 L507.6 370.1" stroke="rgb(10,10,224)" stroke-width="4.5"/><path d="M507.6 370.1 L510.1 371.1 L512.6 371.6 L515.5 371.7 L518.9 371.5 L521.8 370.7" stroke="rgb(10,10,224)" stroke-width="5.0"/><path d="M521.8 370.7 L525.1 369.0 L527.4 367.5 L529.9 365.8" stroke="rgb(10,10,224)" stroke-width="4.5"/><path d="M529.9 365.8 L532.4 364.0 L535.0 362.1" stroke="rgb(10,10,224)" stroke-width="4.0"/><path d="M535.0 362.1 L537.8 360.0" stroke="rgb(10,20,211)" stroke-width="3.5"/><path d="M537.8 360.0 L540.7 357.7" stroke="rgb(10,39,184)" stroke-width="3.5"/><path d="M540.7 357.7 L543.6 355.4" stroke="rgb(10,59,156)" stroke-width="3.0"/><path d="M543.6 355.4 L546.4 353.4" stroke="rgb(10,79,129)" stroke-width="3.0"/><path d="M546.4 353.4 L549.2 351.7" stroke="rgb(10,99,102)" stroke-width="3.0"/><path d="M549.2 351.7 L551.8 350.1" stroke="rgb(25,97,81)" stroke-width="3.0"/><path d="M551.8 350.1 L554.4 348.7" stroke="rgb(42,94,62)" stroke-width="3.0"/><path d="M554.4 348.7 L557.0 347.7" stroke="rgb(58,90,42)" stroke-width="3.0"/><path d="M557.0 347.7 L559.6 347.1" stroke="rgb(117,63,35)" stroke-width="2.5"/><path d="M559.6 347.1 L562.2 347.1" stroke="rgb(181,33,30)" stroke-width="2.5"/><path d="M562.2 347.1 L564.7 347.6 L567.2 348.6 L569.8 350.0 L572.5 351.6 L575.4 353.5 L578.7 355.9 L582.1 358.7 L585.5 361.6 L588.6 364.2 L591.3 366.5 L593.5 368.5 L595.4 370.3 L597.3 372.0 L599.1 373.7 L601.1 375.3 L603.2 377.0 L605.2 378.7 L607.2 380.2" stroke="rgb(208,20,28)" stroke-width="2.5"/><path d="M607.2 380.2 L610.3 382.2 L613.3 383.7 L616.4 384.9 L619.4 385.6 L622.4 385.8 L625.5 385.5 L628.6 384.8 L631.6 383.9 L634.6 382.5 L637.7 381.0 L640.7 379.5 L643.8 378.2 L646.8 377.0 L649.9 375.9 L653.0 374.8 L656.1 373.8 L659.1 373.0 L661.9 372.3 L664.5 371.8 L667.5 371.5 L670.5 371.1 L673.0 371.0" stroke="rgb(208,20,28)" stroke-width="3.0"/><path d="M422.2 436.8 L425.3 436.9 L428.5 436.9" stroke="rgb(20,140,20)" stroke-width="3.0"/><path d="M428.5 436.9 L431.7 436.8 L434.8 436.4" stroke="rgb(20,140,20)" stroke-width="3.5"/><path d="M434.8 436.4 L438.0 435.8" stroke="rgb(17,101,81)" stroke-width="4.0"/><path d="M438.0 435.8 L441.0 435.2" stroke="rgb(13,51,160)" stroke-width="4.5"/><path d="M441.0 435.2 L443.5 434.6 L446.4 433.8 L449.2 432.8 L452.1 431.5 L455.0 430.0 L457.2 428.8 L459.4 427.4 L461.6 426.0 L463.8 424.5 L466.0 423.1 L468.2 421.6 L470.4 420.2 L472.6 418.8 L474.8 417.4 L476.9 416.1 L479.1 414.9 L482.0 413.4 L485.0 412.0 L487.9 410.8 L490.9 409.7 L493.7 408.8 L496.4 408.3" stroke="rgb(10,10,224)" stroke-width="4.5"/><path d="M496.4 408.3 L499.0 408.0" stroke="rgb(13,53,157)" stroke-width="4.0"/><path d="M499.0 408.0 L501.5 408.1" stroke="rgb(18,120,52)" stroke-width="3.0"/><path d="M501.5 408.1 L504.0 408.4 L506.7 408.7 L509.6 408.9 L512.6 409.0 L515.6 409.0 L518.7 408.9 L521.8 408.8 L525.1 408.5 L528.4 408.4" stroke="rgb(20,140,20)" stroke-width="3.0"/><path d="M528.4 408.4 L531.5 409.0" stroke="rgb(15,76,120)" stroke-width="4.0"/><path d="M531.5 409.0 L534.3 410.0" stroke="rgb(10,12,221)" stroke-width="4.5"/><path d="M534.3 410.0 L537.2 411.4 L539.4 412.8 L541.6 414.4 L543.8 416.1 L546.0 417.8 L548.2 419.5 L550.4 421.3 L552.6 423.1" stroke="rgb(10,10,224)" stroke-width="4.5"/><path d="M552.6 423.1 L554.8 424.9 L556.9 426.6" stroke="rgb(10,10,224)" stroke-width="4.0"/><path d="M556.9 426.6 L559.1 428.2" stroke="rgb(11,10,224)" stroke-width="4.0"/><path d="M559.1 428.2 L561.4 429.8" stroke="rgb(47,13,195)" stroke-width="3.5"/><path d="M561.4 429.8 L563.6 431.2" stroke="rgb(83,16,165)" stroke-width="3.5"/><path d="M563.6 431.2 L566.3 432.7" stroke="rgb(123,19,133)" stroke-width="3.0"/><path d="M566.3 432.7 L568.8 433.8" stroke="rgb(148,22,108)" stroke-width="3.0"/><path d="M568.8 433.8 L571.5 434.7" stroke="rgb(161,25,89)" stroke-width="2.5"/><path d="M571.5 434.7 L574.1 434.8" stroke="rgb(174,29,69)" stroke-width="2.5"/><path d="M574.1 434.8 L576.0 434.7" stroke="rgb(180,30,60)" stroke-width="2.5"/><circle cx="576.0" cy="434.7" r="1.05" fill="rgb(180,30,60)"/><circle cx="578.3" cy="434.5" r="1.05" fill="rgb(191,30,49)"/><circle cx="580.5" cy="433.8" r="1.05" fill="rgb(203,30,37)"/><circle cx="582.6" cy="432.7" r="1.05" fill="rgb(210,30,30)"/><circle cx="584.7" cy="431.3" r="1.05" fill="rgb(210,30,30)"/><circle cx="586.8" cy="429.8" r="1.05" fill="rgb(210,30,30)"/><circle cx="588.9" cy="428.2" r="1.05" fill="rgb(210,30,30)"/><circle cx="590.9" cy="426.6" r="1.05" fill="rgb(210,30,30)"/><circle cx="593.1" cy="424.8" r="1.05" fill="rgb(210,30,30)"/><circle cx="595.4" cy="423.0" r="1.05" fill="rgb(210,30,30)"/><circle cx="597.6" cy="421.2" r="1.05" fill="rgb(210,30,30)"/><circle cx="599.6" cy="419.6" r="1.05" fill="rgb(210,30,30)"/><circle cx="601.5" cy="418.1" r="1.05" fill="rgb(210,30,30)"/><circle cx="603.2" cy="416.8" r="1.05" fill="rgb(210,30,30)"/><circle cx="605.3" cy="415.2" r="1.05" fill="rgb(210,30,30)"/><circle cx="607.3" cy="413.7" r="1.05" fill="rgb(210,30,30)"/><circle cx="609.4" cy="412.5" r="1.05" fill="rgb(210,30,30)"/><circle cx="611.7" cy="411.5" r="1.05" fill="rgb(210,30,30)"/><circle cx="614.0" cy="410.7" r="1.05" fill="rgb(210,30,30)"/><circle cx="616.5" cy="410.1" r="1.05" fill="rgb(210,30,30)"/><circle cx="618.8" cy="409.8" r="1.05" fill="rgb(210,30,30)"/><circle cx="621.1" cy="409.6" r="1.05" fill="rgb(210,30,30)"/><circle cx="623.7" cy="409.8" r="1.05" fill="rgb(210,30,30)"/><circle cx="625.9" cy="410.4" r="1.05" fill="rgb(210,30,30)"/><circle cx="628.3" cy="411.3" r="1.05" fill="rgb(210,30,30)"/><circle cx="630.4" cy="412.0" r="1.05" fill="rgb(210,30,30)"/><path d="M630.6 412.1 L632.9 413.5" stroke="rgb(179,38,26)" stroke-width="2.5"/><path d="M632.9 413.5 L636.2 415.4" stroke="rgb(170,42,24)" stroke-width="2.5"/><path d="M636.2 415.4 L638.5 416.8" stroke="rgb(159,46,22)" stroke-width="2.5"/><path d="M638.5 416.8 L640.7 418.1" stroke="rgb(151,49,20)" stroke-width="2.5"/><path d="M640.7 418.1 L643.8 419.9" stroke="rgb(143,53,19)" stroke-width="2.5"/><path d="M643.8 419.9 L646.8 421.8" stroke="rgb(132,57,16)" stroke-width="2.5"/><path d="M646.8 421.8 L649.9 423.6" stroke="rgb(122,61,14)" stroke-width="3.0"/><path d="M649.9 423.6 L653.0 425.4" stroke="rgb(112,65,12)" stroke-width="3.0"/><path d="M653.0 425.4 L656.1 427.3" stroke="rgb(102,69,10)" stroke-width="3.0"/><path d="M656.1 427.3 L659.1 429.2" stroke="rgb(91,77,12)" stroke-width="3.0"/><path d="M659.1 429.2 L661.9 430.8" stroke="rgb(80,85,15)" stroke-width="3.0"/><path d="M661.9 430.8 L664.6 432.4" stroke="rgb(70,93,18)" stroke-width="3.0"/><path d="M664.6 432.4 L667.1 433.8" stroke="rgb(60,100,20)" stroke-width="3.0"/><path d="M667.1 433.8 L669.8 435.3" stroke="rgb(36,124,20)" stroke-width="3.0"/><path d="M669.8 435.3 L672.0 436.7 L673.0 437.3" stroke="rgb(20,140,20)" stroke-width="3.0"/><path d="M422.2 446.0 L425.0 446.0 L427.7 445.9" stroke="rgb(10,10,224)" stroke-width="5.5"/><path d="M427.7 445.9 L430.5 445.9 L433.3 446.0 L437.0 446.1 L440.7 446.4" stroke="rgb(10,10,224)" stroke-width="5.0"/><path d="M440.7 446.4 L444.2 446.8" stroke="rgb(27,12,213)" stroke-width="5.0"/><path d="M444.2 446.8 L447.3 447.1" stroke="rgb(50,16,199)" stroke-width="4.5"/><path d="M447.3 447.1 L450.0 447.5" stroke="rgb(70,19,186)" stroke-width="4.0"/><path d="M450.0 447.5 L452.5 447.9" stroke="rgb(92,20,171)" stroke-width="4.0"/><path d="M452.5 447.9 L455.0 448.2" stroke="rgb(117,20,154)" stroke-width="3.5"/><path d="M455.0 448.2 L457.6 448.4" stroke="rgb(143,20,136)" stroke-width="3.5"/><path d="M457.6 448.4 L460.3 448.6" stroke="rgb(162,20,123)" stroke-width="3.5"/><path d="M460.3 448.6 L462.9 448.6" stroke="rgb(166,20,120)" stroke-width="3.5"/><path d="M462.9 448.6 L465.6 448.5" stroke="rgb(170,20,118)" stroke-width="3.5"/><path d="M465.6 448.5 L468.2 448.4" stroke="rgb(175,20,115)" stroke-width="3.5"/><path d="M468.2 448.4 L470.8 448.0" stroke="rgb(179,20,112)" stroke-width="3.5"/><path d="M470.8 448.0 L473.5 447.5" stroke="rgb(163,20,127)" stroke-width="3.5"/><path d="M473.5 447.5 L476.1 446.7" stroke="rgb(142,20,144)" stroke-width="3.5"/><path d="M476.1 446.7 L478.7 445.7" stroke="rgb(121,20,162)" stroke-width="4.0"/><path d="M478.7 445.7 L481.3 444.5" stroke="rgb(100,20,180)" stroke-width="4.0"/><path d="M481.3 444.5 L483.9 443.1" stroke="rgb(71,17,194)" stroke-width="4.0"/><path d="M483.9 443.1 L486.6 441.4" stroke="rgb(41,13,209)" stroke-width="4.5"/><path d="M486.6 441.4 L489.2 439.7" stroke="rgb(11,10,223)" stroke-width="4.5"/><path d="M489.2 439.7 L491.8 437.9 L494.4 435.9" stroke="rgb(10,10,224)" stroke-width="4.5"/><path d="M494.4 435.9 L497.1 434.0 L499.7 432.2 L502.5 430.6 L505.2 429.1" stroke="rgb(10,10,224)" stroke-width="5.0"/><path d="M505.2 429.1 L507.6 428.0 L510.0 427.0 L512.7 426.6 L515.8 426.9 L518.5 427.4" stroke="rgb(10,10,224)" stroke-width="5.5"/><path d="M518.5 427.4 L521.1 428.2 L523.4 429.2 L525.6 430.4 L527.8 431.8" stroke="rgb(10,10,224)" stroke-width="5.0"/><path d="M527.8 431.8 L529.9 433.3 L532.1 434.9 L534.3 436.6" stroke="rgb(10,10,224)" stroke-width="4.5"/><path d="M534.3 436.6 L536.5 438.2" stroke="rgb(22,12,216)" stroke-width="4.0"/><path d="M536.5 438.2 L538.7 439.8" stroke="rgb(41,14,204)" stroke-width="4.0"/><path d="M538.7 439.8 L540.9 441.3" stroke="rgb(61,17,192)" stroke-width="4.0"/><path d="M540.9 441.3 L543.1 442.7" stroke="rgb(80,20,180)" stroke-width="4.0"/><path d="M543.1 442.7 L545.3 443.9" stroke="rgb(94,20,175)" stroke-width="3.5"/><path d="M545.3 443.9 L548.2 445.3" stroke="rgb(110,20,168)" stroke-width="3.5"/><path d="M548.2 445.3 L551.1 446.4" stroke="rgb(128,20,161)" stroke-width="3.5"/><path d="M551.1 446.4 L554.0 447.1" stroke="rgb(127,20,160)" stroke-width="3.5"/><path d="M554.0 447.1 L556.9 447.6" stroke="rgb(123,20,160)" stroke-width="3.5"/><path d="M556.9 447.6 L559.9 448.2" stroke="rgb(114,19,164)" stroke-width="3.5"/><path d="M559.9 448.2 L562.8 448.8" stroke="rgb(68,15,190)" stroke-width="4.0"/><path d="M562.8 448.8 L565.7 449.6" stroke="rgb(22,11,217)" stroke-width="4.0"/><path d="M565.7 449.6 L568.6 450.8" stroke="rgb(10,10,224)" stroke-width="4.5"/><path d="M568.6 450.8 L571.5 452.4 L573.7 453.8 L575.9 455.5 L578.1 457.3 L580.3 459.1 L582.5 460.9 L584.8 462.8 L586.9 464.5 L589.5 466.4 L591.9 468.1 L593.9 469.7 L595.9 471.5 L597.0 472.5" stroke="rgb(10,10,224)" stroke-width="5.0"/><path d="M644.0 473.0 L646.5 471.0 L649.0 468.4 L651.3 465.9 L653.9 463.1 L656.6 460.3 L659.0 457.7 L661.4 455.3 L663.8 452.9 L666.2 450.6 L668.3 448.6 L670.6 446.4 L672.6 444.4 L673.0 444.0" stroke="rgb(10,10,224)" stroke-width="4.5"/><path d="M486.0 286.5 L488.8 287.0" stroke="rgb(10,10,224)" stroke-width="2.5"/><path d="M488.8 287.0 L491.6 287.4 L494.4 287.9" stroke="rgb(10,10,224)" stroke-width="3.0"/><path d="M494.4 287.9 L497.7 288.3 L501.2 288.7" stroke="rgb(10,10,224)" stroke-width="3.5"/><path d="M501.2 288.7 L503.8 288.9 L506.5 289.2 L509.3 289.3" stroke="rgb(10,10,224)" stroke-width="4.0"/><path d="M509.3 289.3 L512.0 289.5 L514.5 289.5" stroke="rgb(10,10,224)" stroke-width="4.5"/><path d="M514.5 289.5 L517.9 289.5 L521.3 289.4 L525.0 289.2" stroke="rgb(10,10,224)" stroke-width="4.0"/><path d="M525.0 289.2 L527.8 289.1 L530.9 288.9" stroke="rgb(10,10,224)" stroke-width="3.5"/><path d="M530.9 288.9 L534.0 288.7" stroke="rgb(11,17,214)" stroke-width="3.5"/><path d="M534.0 288.7 L537.1 288.5" stroke="rgb(13,25,201)" stroke-width="3.0"/><path d="M537.1 288.5 L540.0 288.3" stroke="rgb(15,34,189)" stroke-width="3.0"/><path d="M540.0 288.3 L542.9 288.1" stroke="rgb(16,42,177)" stroke-width="3.0"/><path d="M542.9 288.1 L545.8 287.9" stroke="rgb(18,50,165)" stroke-width="2.5"/><path d="M545.8 287.9 L548.5 287.7" stroke="rgb(20,58,153)" stroke-width="2.5"/><path d="M548.5 287.7 L552.1 287.5 L555.0 287.2" stroke="rgb(20,60,150)" stroke-width="2.5"/><path d="M555.0 287.2 L557.0 286.8" stroke="rgb(20,60,150)" stroke-width="2.0"/><circle cx="639.0" cy="283.5" r="1.30" fill="rgb(10,110,60)"/><circle cx="640.0" cy="286.6" r="1.30" fill="rgb(10,110,60)"/><circle cx="641.5" cy="289.8" r="1.30" fill="rgb(11,114,55)"/><circle cx="642.9" cy="292.9" r="1.30" fill="rgb(12,117,50)"/><circle cx="644.3" cy="296.0" r="1.30" fill="rgb(14,121,46)"/><circle cx="645.8" cy="299.3" r="1.30" fill="rgb(15,125,41)"/><circle cx="647.3" cy="302.5" r="1.30" fill="rgb(16,128,36)"/><circle cx="648.8" cy="305.5" r="1.30" fill="rgb(17,132,31)"/><circle cx="650.4" cy="308.7" r="1.30" fill="rgb(19,136,25)"/><circle cx="651.8" cy="311.6" r="1.30" fill="rgb(20,139,21)"/><circle cx="653.3" cy="314.7" r="1.30" fill="rgb(20,140,20)"/><path d="M654.0 316.0 L655.2 318.5 L656.6 321.2 L658.1 324.1 L659.9 327.5 L661.3 330.1 L662.7 332.6 L664.0 334.7 L665.8 337.0 L668.1 338.8" stroke="rgb(20,140,20)" stroke-width="2.0"/><path d="M668.1 338.8 L670.4 340.2 L672.8 341.0 L673.0 341.0" stroke="rgb(20,140,20)" stroke-width="1.5"/></g><rect x="422.3" y="287.1" width="247.9" height="183.1" fill="none" stroke="#000" stroke-width="2"/><line x1="422.3" y1="323.1" x2="426.3" y2="323.1" stroke="#000" stroke-width="2"/><text x="417.6" y="328.0" font-size="17.5" font-family="Liberation Sans, sans-serif" font-weight="normal" text-anchor="end" >2</text><line x1="422.3" y1="396.9" x2="426.3" y2="396.9" stroke="#000" stroke-width="2"/><text x="417.6" y="401.8" font-size="17.5" font-family="Liberation Sans, sans-serif" font-weight="normal" text-anchor="end" >0</text><line x1="422.3" y1="470.7" x2="426.3" y2="470.7" stroke="#000" stroke-width="2"/><text x="417.6" y="475.6" font-size="17.5" font-family="Liberation Sans, sans-serif" font-weight="normal" text-anchor="end" >-2</text><text transform="translate(389.00 292.00) scale(1.060 1)" font-size="25.5" font-family="Liberation Serif, serif" font-weight="normal" text-anchor="start" stroke="#000" stroke-width="0.6">(d)</text><text x="435.0" y="282.0" font-size="16.3" font-family="Liberation Serif, serif" font-weight="normal" text-anchor="start" textLength="178.3" lengthAdjust="spacingAndGlyphs" stroke="#000" stroke-width="0.3">Low-Buckled With SOC</text><text transform="translate(424.20 490.80) scale(1.070 1)" font-size="19.5" font-family="Liberation Sans, sans-serif" font-weight="normal" text-anchor="middle" >M</text><text transform="translate(514.00 490.80) scale(1.070 1)" font-size="19.5" font-family="Liberation Sans, sans-serif" font-weight="normal" text-anchor="middle" >&#915;</text><text transform="translate(619.80 490.80) scale(1.070 1)" font-size="19.5" font-family="Liberation Sans, sans-serif" font-weight="normal" text-anchor="middle" >K</text><text transform="translate(675.30 490.80) scale(1.070 1)" font-size="19.5" font-family="Liberation Sans, sans-serif" font-weight="normal" text-anchor="middle" >M</text><text x="0.0" y="0.0" font-size="17.2" font-family="Liberation Sans, sans-serif" font-weight="normal" text-anchor="middle" transform="translate(385.2,389.9) rotate(-90)">Energy(eV)</text></svg></body></html>
